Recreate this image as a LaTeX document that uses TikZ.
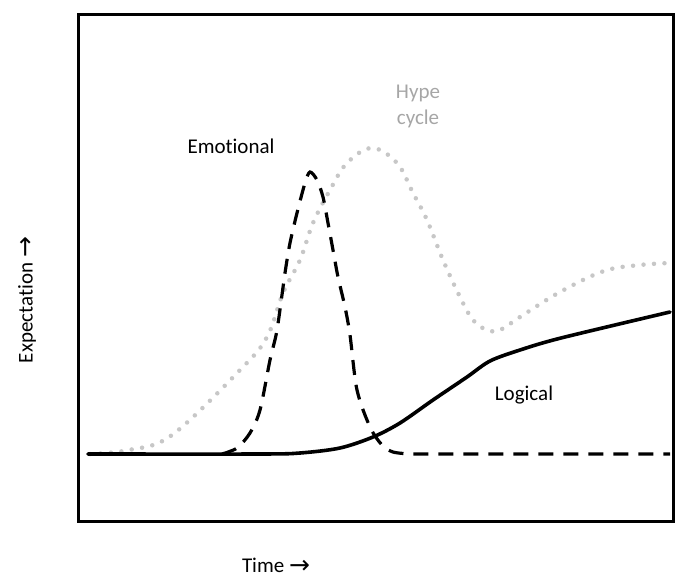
\documentclass[tikz,border=0pt]{standalone}
\usepackage{fontspec}
\setmainfont{Carlito}[Ligatures=NoCommon]
\newfontfamily\arrowfont{DejaVu Sans}
\newcommand{\rarrow}{{\arrowfont\fontsize{25}{26}\selectfont\raisebox{-1pt}{→}}}
\begin{document}
\begin{tikzpicture}[x=1pt,y=-1pt,
  frame/.style={line width=3pt},
  logical/.style={line width=3.6pt,line cap=round,line join=round},
  emotional/.style={line width=3.2pt,dash pattern=on 15pt off 10pt},
  hype/.style={line width=4.5pt,line cap=round,dash pattern=on 0pt off 10.5pt,draw=black!22},
  lbl/.style={font=\fontsize{21}{26}\selectfont,inner sep=0pt,align=center}]
\useasboundingbox (0,0) rectangle (678,579);
\draw[frame] (78,14) rectangle (673,521);
% hype cycle (dotted)
\draw[hype] plot[smooth,tension=0.6] coordinates {(90,454) (129,450) (172,435) (241,369) (267,337) (283,293) (300,260) (313,223) (330,190) (347,163) (372,148) (397,163) (413,193) (427,220) (443,260) (460,297) (473,320) (487,330) (500,330) (520,317) (560,292) (604,271) (640,265) (670,263)};
% emotional (dashed)
\draw[emotional] plot[smooth,tension=0.5] coordinates {(222,454) (237,448) (250,433) (260,410) (270,360) (277,330) (285,273) (290,243) (297,213) (305,183) (310,172) (317,180) (323,197) (328,223) (333,250) (338,277) (345,307) (350,335) (357,390) (370,427) (382,445) (393,452) (410,454)} -- (670,454);
% logical (solid)
\draw[logical] plot[smooth,tension=0.5] coordinates {(88,454) (260,454) (300,453) (340,448) (373,437) (400,423) (433,400) (467,377) (490,361) (520,350) (561,338) (670,312)};
\node[lbl,text=black!35] (hypelbl) at (418,106) {Hype\\cycle};
\node[lbl] (emolbl) at (231,146) {Emotional};
\node[lbl] (loglbl) at (524,395) {Logical};
\node[lbl] (timelbl) at (276,566) {Time \rarrow};
\node[lbl,rotate=90] (explbl) at (27,300) {Expectation \rarrow};
\end{tikzpicture}
\end{document}
